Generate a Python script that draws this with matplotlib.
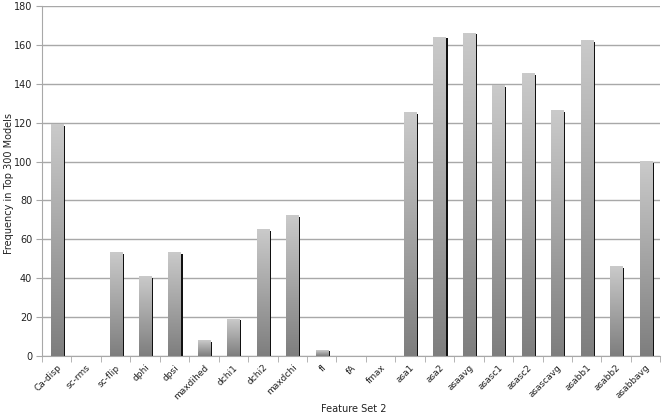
import matplotlib
matplotlib.use("Agg")
import matplotlib.pyplot as plt
import numpy as np
from matplotlib.colors import LinearSegmentedColormap

categories = ["Ca-disp", "sc-rms", "sc-flip", "dphi", "dpsi", "maxdihed", "dchi1",
              "dchi2", "maxdchi", "fl", "fA", "fmax", "asa1", "asa2", "asaavg",
              "asasc1", "asasc2", "asascavg", "asabb1", "asabb2", "asabbavg"]
values = [119, 0, 53, 41, 53, 8, 19, 65, 72, 3, 0, 0, 125, 164, 166, 139, 145,
          126, 162, 46, 100]
yticks = [0, 20, 40, 60, 80, 100, 120, 140, 160, 180]

fig = plt.figure(figsize=(6.62, 4.16), dpi=100)
ax = fig.add_axes([0.0634, 0.144, 0.934, 0.8416])

x = np.arange(len(categories))
bw = 0.41
sw = 0.07
cmap = LinearSegmentedColormap.from_list("g", ["#7e7e7e", "#cacaca"])
grad = np.linspace(0, 1, 256).reshape(-1, 1)

# shadows
ax.bar(x + bw / 2 + sw / 2, [max(v - 0.6, 0) for v in values], width=sw,
       color="#111111", zorder=2, linewidth=0)
bars = ax.bar(x, values, width=bw, color="none", linewidth=0, zorder=3)
for b, v in zip(bars, values):
    if v <= 0:
        continue
    x0, y0 = b.get_x(), b.get_y()
    ax.imshow(grad, extent=[x0, x0 + b.get_width(), y0, y0 + b.get_height()],
              origin="lower", cmap=cmap, aspect="auto", zorder=3,
              interpolation="bilinear")

ax.set_xlim(-0.5, len(categories) - 0.5)
ax.set_ylim(0, 180)
ax.set_yticks(yticks)
ax.set_yticklabels([str(t) for t in yticks], fontsize=7, color="#222222")
ax.yaxis.grid(True, color="#a8a8a8", linewidth=1.0)
ax.set_axisbelow(True)

ax.set_xticks(x)
ax.set_xticklabels(categories, rotation=45, ha="right", rotation_mode="anchor",
                   fontsize=6.5, color="#222222")
ax.tick_params(axis="x", which="major", length=0, pad=5)
ax.set_xticks(np.arange(-0.5, len(categories), 1), minor=True)
ax.tick_params(axis="x", which="minor", length=4, color="#a8a8a8", direction="out")
ax.tick_params(axis="y", length=4, color="#a8a8a8", direction="out", pad=3)

for s in ["top", "right"]:
    ax.spines[s].set_visible(False)
for s in ["left", "bottom"]:
    ax.spines[s].set_color("#a8a8a8")

fig.text(0.013, (0.144 + 0.9856) / 2 - 0.005, "Frequency in Top 300 Models",
         rotation=90, fontsize=7, color="#222222", ha="center", va="center")
fig.text(0.535, 0.018, "Feature Set 2", fontsize=7, color="#222222",
         ha="center", va="center")

fig.savefig("out.png", dpi=100)
